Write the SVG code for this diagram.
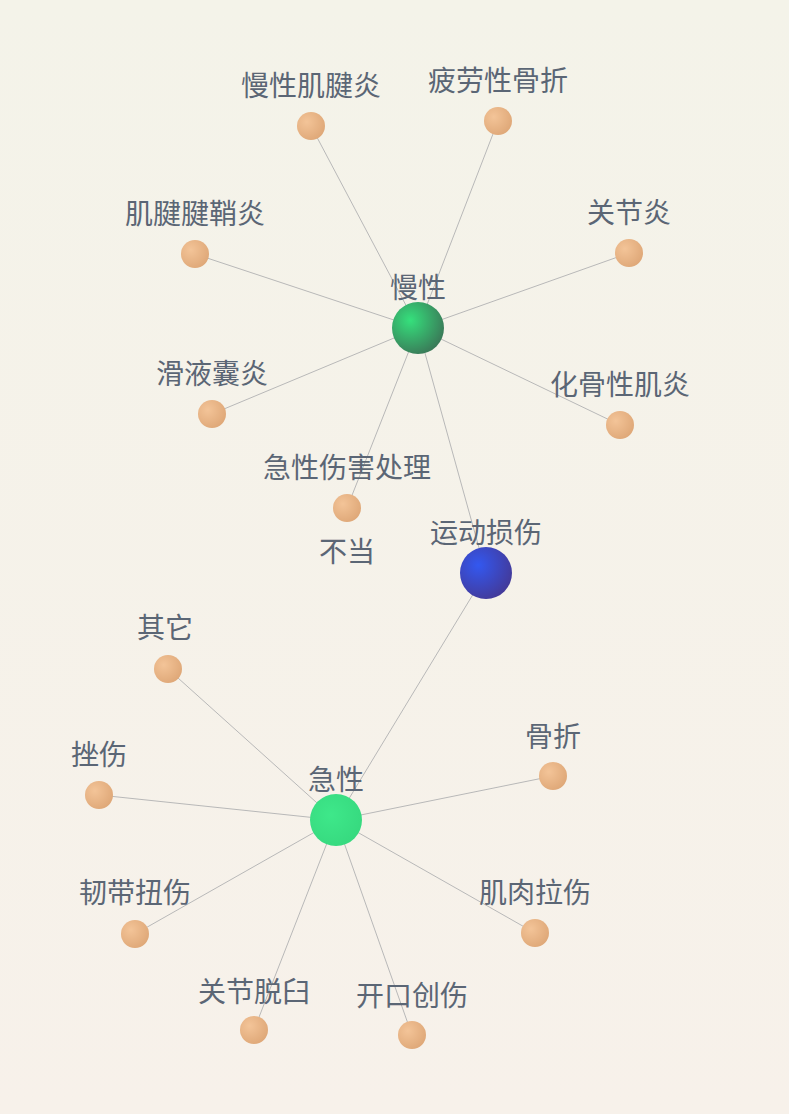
<svg xmlns="http://www.w3.org/2000/svg" width="789" height="1114" viewBox="0 0 789 1114">
<style>
text{font-family:"Noto Sans CJK SC","Noto Sans",sans-serif;font-size:28px;fill:#5b6675;text-anchor:middle}
.e{stroke:#b8b8b8;stroke-width:1}
</style>
<defs>
<linearGradient id="bg" x1="0" y1="0" x2="0" y2="1"><stop offset="0" stop-color="#f4f3e9"/><stop offset="1" stop-color="#f7f1ea"/></linearGradient>
<radialGradient id="or" cx="0.35" cy="0.35" r="0.7"><stop offset="0" stop-color="#f3c498"/><stop offset="1" stop-color="#dfa878"/></radialGradient>
<radialGradient id="g1" cx="0.35" cy="0.35" r="0.7"><stop offset="0" stop-color="#35e07c"/><stop offset="1" stop-color="#3a7a58"/></radialGradient>
<radialGradient id="g2" cx="0.4" cy="0.4" r="0.7"><stop offset="0" stop-color="#3ee88a"/><stop offset="1" stop-color="#36d87e"/></radialGradient>
<radialGradient id="bl" cx="0.35" cy="0.35" r="0.7"><stop offset="0" stop-color="#3358f0"/><stop offset="1" stop-color="#433a9a"/></radialGradient>
</defs>
<rect width="789" height="1114" fill="url(#bg)"/>
<g id="edges" class="e">
<line x1="418" y1="328" x2="486" y2="573"/>
<line x1="336" y1="820" x2="486" y2="573"/>
<line x1="418" y1="328" x2="311" y2="126"/>
<line x1="418" y1="328" x2="498" y2="121"/>
<line x1="418" y1="328" x2="195" y2="254"/>
<line x1="418" y1="328" x2="629" y2="253"/>
<line x1="418" y1="328" x2="212" y2="414"/>
<line x1="418" y1="328" x2="620" y2="425"/>
<line x1="418" y1="328" x2="347" y2="508"/>
<line x1="336" y1="820" x2="168" y2="669"/>
<line x1="336" y1="820" x2="99" y2="795"/>
<line x1="336" y1="820" x2="553" y2="776"/>
<line x1="336" y1="820" x2="135" y2="934"/>
<line x1="336" y1="820" x2="535" y2="933"/>
<line x1="336" y1="820" x2="254" y2="1030"/>
<line x1="336" y1="820" x2="412" y2="1035"/>
</g>
<g id="n1"><circle cx="311" cy="126" r="14" fill="url(#or)"/><text x="311" y="96">慢性肌腱炎</text></g>
<g id="n2"><circle cx="498" cy="121" r="14" fill="url(#or)"/><text x="498" y="91">疲劳性骨折</text></g>
<g id="n3"><circle cx="195" cy="254" r="14" fill="url(#or)"/><text x="195" y="224">肌腱腱鞘炎</text></g>
<g id="n4"><circle cx="629" cy="253" r="14" fill="url(#or)"/><text x="629" y="223">关节炎</text></g>
<g id="n5"><circle cx="212" cy="414" r="14" fill="url(#or)"/><text x="212" y="384">滑液囊炎</text></g>
<g id="n6"><circle cx="620" cy="425" r="14" fill="url(#or)"/><text x="620" y="395">化骨性肌炎</text></g>
<g id="n7"><circle cx="347" cy="508" r="14" fill="url(#or)"/><text x="347" y="478">急性伤害处理</text><text x="347" y="562">不当</text></g>
<g id="n8"><circle cx="168" cy="669" r="14" fill="url(#or)"/><text x="165" y="638">其它</text></g>
<g id="n9"><circle cx="99" cy="795" r="14" fill="url(#or)"/><text x="99" y="765">挫伤</text></g>
<g id="n10"><circle cx="553" cy="776" r="14" fill="url(#or)"/><text x="553" y="747">骨折</text></g>
<g id="n11"><circle cx="135" cy="934" r="14" fill="url(#or)"/><text x="135" y="903">韧带扭伤</text></g>
<g id="n12"><circle cx="535" cy="933" r="14" fill="url(#or)"/><text x="535" y="903">肌肉拉伤</text></g>
<g id="n13"><circle cx="254" cy="1030" r="14" fill="url(#or)"/><text x="254" y="1002">关节脱臼</text></g>
<g id="n14"><circle cx="412" cy="1035" r="14" fill="url(#or)"/><text x="412" y="1006">开口创伤</text></g>
<g id="chronic"><circle cx="418" cy="328" r="26" fill="url(#g1)"/><text x="418" y="298">慢性</text></g>
<g id="root"><circle cx="486" cy="573" r="26" fill="url(#bl)"/><text x="486" y="543">运动损伤</text></g>
<g id="acute"><circle cx="336" cy="820" r="26" fill="url(#g2)"/><text x="336" y="790">急性</text></g>
</svg>
